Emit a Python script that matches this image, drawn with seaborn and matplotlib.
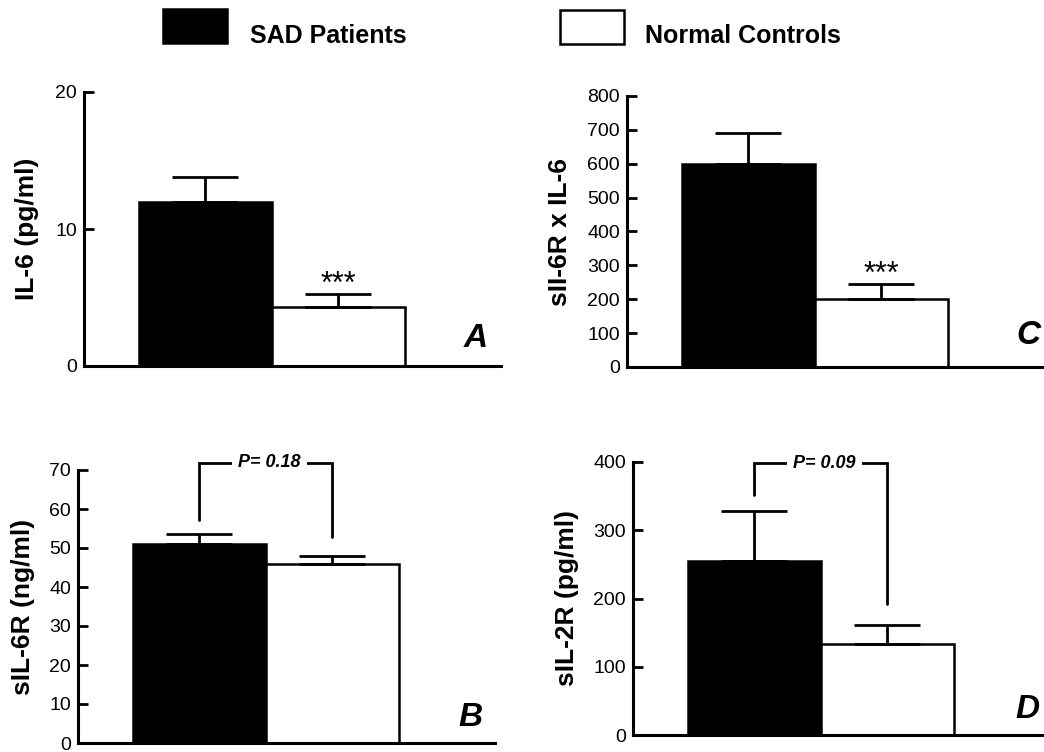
import matplotlib
matplotlib.use("Agg")
import matplotlib.pyplot as plt
import seaborn as sns
import pandas as pd
from matplotlib.patches import Rectangle

# ---------------- data ----------------
groups = ["SAD Patients", "Normal Controls"]
colors = ["black", "white"]

il6_mean = [12.0, 4.3]
il6_sem = [1.8, 0.95]

sil6r_x_il6_mean = [600, 200]
sil6r_x_il6_sem = [90, 45]

sil6r_mean = [51.0, 45.9]
sil6r_sem = [2.6, 2.1]

sil2r_mean = [255, 133]
sil2r_sem = [73, 28]

ylabels = ["IL-6 (pg/ml)", "sII-6R x IL-6", "sIL-6R (ng/ml)", "sIL-2R (pg/ml)"]
yticks_A = [0, 10, 20]
yticks_C = [0, 100, 200, 300, 400, 500, 600, 700, 800]
yticks_B = [0, 10, 20, 30, 40, 50, 60, 70]
yticks_D = [0, 100, 200, 300, 400]

# significance annotations
stars_text = "***"
p_text_B = "P= 0.18"
p_bracket_B = [57.2, 71.8, 52.8]   # left end, top, right end
p_text_D = "P= 0.09"
p_bracket_D = [352, 398.5, 192]

# ---------------- style ----------------
sns.set_style("ticks")
plt.rcParams["font.family"] = ["Liberation Sans", "DejaVu Sans"]
plt.rcParams["text.color"] = "black"
plt.rcParams["axes.labelcolor"] = "black"
plt.rcParams["xtick.color"] = "black"
plt.rcParams["ytick.color"] = "black"

fig = plt.figure(figsize=(10.44, 7.52), dpi=100)

FW, FH = 1044, 752
W = 417 / FW
positions = {
    "A": [84 / FW, 1 - 366 / FH, W, 274 / FH],
    "C": [627 / FW, 1 - 367 / FH, W, 271 / FH],
    "B": [78 / FW, 1 - 743 / FH, W, 273 / FH],
    "D": [633 / FW, 1 - 735 / FH, W, 273 / FH],
}

panels = [
    ("A", il6_mean, il6_sem, ylabels[0], yticks_A, -0.137, (0.940, 0.099)),
    ("C", sil6r_x_il6_mean, sil6r_x_il6_sem, ylabels[1], yticks_C, -0.161, (0.962, 0.118)),
    ("B", sil6r_mean, sil6r_sem, ylabels[2], yticks_B, -0.132, (0.942, 0.095)),
    ("D", sil2r_mean, sil2r_sem, ylabels[3], yticks_D, -0.158, (0.947, 0.092)),
]

axes = {}
for key, means, sems, ylab, yt, labx, letter_pos in panels:
    ax = fig.add_axes(positions[key])
    axes[key] = ax
    df = pd.DataFrame({"group": groups, "value": means})
    sns.barplot(data=df, x="group", y="value", hue="group",
                palette=dict(zip(groups, colors)), edgecolor="black",
                linewidth=1.8, width=1.0, errorbar=None, legend=False,
                ax=ax, zorder=2)
    ax.errorbar([0, 1], means, yerr=[[0, 0], sems], fmt="none",
                ecolor="black", elinewidth=2.0, capsize=24, capthick=2.0,
                zorder=3)
    ax.set_xlim(-0.91, 2.225)
    ax.set_ylim(yt[0], yt[-1])
    ax.set_yticks(yt)
    ax.set_yticklabels([str(v) for v in yt])
    ax.set_xticks([])
    ax.set_xlabel("")
    ax.set_ylabel(ylab, fontsize=19, fontweight="bold", ha="center", va="center")
    ax.yaxis.set_label_coords(labx, 0.5)
    ax.tick_params(axis="y", direction="in", length=7, width=2.0,
                   labelsize=14, pad=5, colors="black")
    for s in ["top", "right"]:
        ax.spines[s].set_visible(False)
    for s in ["left", "bottom"]:
        ax.spines[s].set_linewidth(2.2)
        ax.spines[s].set_color("black")
    ax.spines["bottom"].set_zorder(4)
    ax.patch.set_alpha(0)
    ax.text(letter_pos[0], letter_pos[1], key, transform=ax.transAxes,
            fontsize=24, fontweight="bold", fontstyle="italic",
            ha="center", va="center")

# stars for A and C
for key, means, sems in [("A", il6_mean, il6_sem), ("C", sil6r_x_il6_mean, sil6r_x_il6_sem)]:
    ax = axes[key]
    ax.annotate(stars_text, xy=(1, means[1] + sems[1]), xytext=(0, 0.5),
                textcoords="offset points", ha="center", va="baseline",
                fontsize=22, annotation_clip=False)

# P brackets for B and D
for key, br, txt in [("B", p_bracket_B, p_text_B), ("D", p_bracket_D, p_text_D)]:
    ax = axes[key]
    ax.plot([0, 0, 1, 1], [br[0], br[1], br[1], br[2]], color="black",
            lw=2.0, clip_on=False, zorder=5, solid_joinstyle="miter")
    ax.text(0.53, br[1], txt, ha="center", va="center", fontsize=13,
            fontweight="bold", fontstyle="italic", zorder=6, clip_on=False,
            bbox=dict(boxstyle="square,pad=0.35", fc="white", ec="none"))

# legend (key boxes + labels)
leg_items = [(163, 9, groups[0], 250), (560, 10, groups[1], 645)]
for (x0, y0, label, tx), fc in zip(leg_items, colors):
    fig.add_artist(Rectangle((x0 / FW, 1 - (y0 + 34) / FH), 64 / FW, 34 / FH,
                             transform=fig.transFigure, facecolor=fc,
                             edgecolor="black", linewidth=1.8))
    fig.text(tx / FW, 1 - 43 / FH, label, fontsize=18, fontweight="bold",
             ha="left", va="baseline")

fig.savefig("out.png", dpi=100, facecolor="white")
